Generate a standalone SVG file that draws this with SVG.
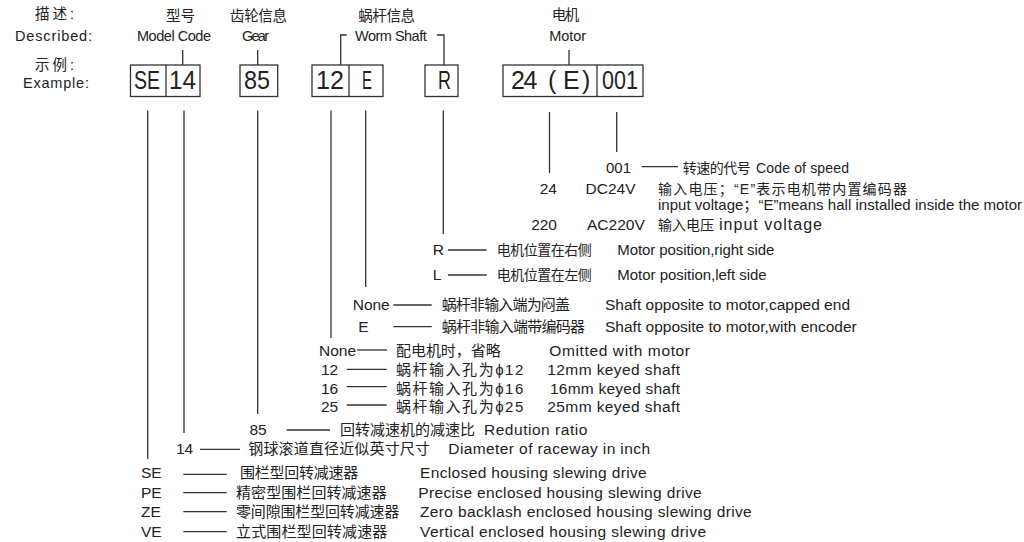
<svg xmlns="http://www.w3.org/2000/svg" width="1024" height="542" viewBox="0 0 1024 542">
<style>
text{font-family:"Liberation Sans","Noto Sans CJK SC",sans-serif;fill:#222;}
.h{font-size:14.5px;}
.b{font-size:25px;}
.s{font-size:14px;}
.m{font-size:15px;}
.l{font-size:15.5px;}
.ln{stroke:#333;stroke-width:1.3;fill:none;}
.bx{stroke:#333;stroke-width:1.3;fill:#fff;}
</style>
<rect width="1024" height="542" fill="#fff"/>

<g id="header">
<text class="h" x="35" y="19" textLength="39">描述:</text>
<text class="h" x="15" y="41" textLength="77">Described:</text>
<text class="h" x="35" y="70" textLength="39">示例:</text>
<text class="h" x="23" y="88" textLength="66">Example:</text>
</g>

<g id="model-code">
<text class="h" x="166" y="21" textLength="29">型号</text>
<text class="h" x="137" y="41" textLength="74">Model Code</text>
<rect class="bx" x="130.5" y="65" width="69.5" height="31.5"/>
<line class="ln" x1="166" y1="65" x2="166" y2="96.5"/>
<text class="b" x="134" y="88.5" textLength="26" lengthAdjust="spacingAndGlyphs">SE</text>
<text class="b" x="169" y="88.5" textLength="27" lengthAdjust="spacingAndGlyphs">14</text>
</g>

<g id="gear">
<text class="h" x="230" y="21" textLength="57">齿轮信息</text>
<text class="h" x="242" y="41" textLength="27">Gear</text>
<rect class="bx" x="240" y="65" width="37.7" height="31.5"/>
<text class="b" x="244" y="88.5" textLength="26" lengthAdjust="spacingAndGlyphs">85</text>
</g>

<g id="worm-shaft">
<text class="h" x="358.3" y="21" textLength="56.7">蜗杆信息</text>
<text class="h" x="355" y="41" textLength="71.7">Worm Shaft</text>
<rect class="bx" x="312" y="65" width="71" height="31.5"/>
<line class="ln" x1="349" y1="65" x2="349" y2="96.5"/>
<text class="b" x="316" y="88.5" textLength="28" lengthAdjust="spacingAndGlyphs">12</text>
<text class="b" x="362" y="88.5" textLength="10" lengthAdjust="spacingAndGlyphs">E</text>
<rect class="bx" x="425" y="65" width="33" height="31.5"/>
<text class="b" x="438" y="88.5" textLength="13" lengthAdjust="spacingAndGlyphs">R</text>
</g>

<g id="motor">
<text class="h" x="551.7" y="20" textLength="27.6">电机</text>
<text class="h" x="549.3" y="41" textLength="36.7">Motor</text>
<rect class="bx" x="503" y="65" width="140" height="31.5"/>
<line class="ln" x1="597" y1="65" x2="597" y2="96.5"/>
<text class="b" x="511 523.5 548 563 582" y="88.5">24(E)</text>
<text class="b" x="602" y="88.5" textLength="36" lengthAdjust="spacingAndGlyphs">001</text>
</g>

<g id="connectors">
<line class="ln" x1="182.7" y1="50" x2="182.7" y2="65"/>
<line class="ln" x1="257.7" y1="50" x2="257.7" y2="65"/>
<polyline class="ln" points="346.7,35 340.7,35 340.7,65"/>
<polyline class="ln" points="437,35 444,35 444,65"/>
<line class="ln" x1="569" y1="50" x2="569" y2="65"/>

<line class="ln" x1="147.7" y1="110.5" x2="147.7" y2="459"/>
<line class="ln" x1="184" y1="110.5" x2="184" y2="433"/>
<line class="ln" x1="257.7" y1="110.5" x2="257.7" y2="414"/>
<line class="ln" x1="331" y1="110.5" x2="331" y2="338"/>
<line class="ln" x1="365.7" y1="110.5" x2="365.7" y2="287"/>
<line class="ln" x1="443.3" y1="110.5" x2="443.3" y2="234"/>
<line class="ln" x1="549.5" y1="112" x2="549.5" y2="173"/>
<line class="ln" x1="616.7" y1="112" x2="616.7" y2="152"/>

<line class="ln" x1="641.7" y1="166.7" x2="678" y2="166.7"/>
<line class="ln" x1="448" y1="250" x2="486.7" y2="250"/>
<line class="ln" x1="448" y1="275" x2="486.7" y2="275"/>
<line class="ln" x1="393.3" y1="305" x2="431.7" y2="305"/>
<line class="ln" x1="393.3" y1="326.7" x2="431.7" y2="326.7"/>
<line class="ln" x1="357" y1="350" x2="387" y2="350"/>
<line class="ln" x1="346.7" y1="369.3" x2="386.7" y2="369.3"/>
<line class="ln" x1="346.7" y1="386.7" x2="386.7" y2="386.7"/>
<line class="ln" x1="346.7" y1="405" x2="386.7" y2="405"/>
<line class="ln" x1="286.7" y1="430" x2="330" y2="430"/>
<line class="ln" x1="200" y1="449.3" x2="240" y2="449.3"/>
<line class="ln" x1="183.3" y1="474.3" x2="226.7" y2="474.3"/>
<line class="ln" x1="183.3" y1="492.7" x2="226.7" y2="492.7"/>
<line class="ln" x1="183.3" y1="511.7" x2="226.7" y2="511.7"/>
<line class="ln" x1="183.3" y1="531.7" x2="226.7" y2="531.7"/>
</g>

<g id="legend-motor">
<text class="m" x="606" y="173">001</text>
<text class="s" x="682.7" y="173" textLength="68">转速的代号</text>
<text class="s" x="756" y="173" textLength="93">Code of speed</text>
<text class="l" x="557" y="193.5" text-anchor="end">24</text>
<text class="l" x="585.5" y="193.5">DC24V</text>
<text class="s" x="658" y="193.5" textLength="249">输入电压；“E”表示电机带内置编码器</text>
<text class="m" x="658" y="209.5" textLength="364">input voltage；“E”means hall installed inside the motor</text>
<text class="l" x="557" y="230" text-anchor="end">220</text>
<text class="l" x="587" y="230">AC220V</text>
<text class="s" x="658" y="230">输入电压</text>
<text class="l" x="719" y="230" textLength="103" style="font-size:16px">input voltage</text>
</g>

<g id="legend-position">
<text class="l" x="432.7" y="255">R</text>
<text class="s" x="496.7" y="255" textLength="95">电机位置在右侧</text>
<text class="m" x="617.3" y="255" textLength="157">Motor position,right side</text>
<text class="l" x="432.7" y="280">L</text>
<text class="s" x="496.7" y="280" textLength="95">电机位置在左侧</text>
<text class="m" x="617.3" y="280" textLength="149.4">Motor position,left side</text>
</g>

<g id="legend-worm-end">
<text class="l" x="352.7" y="310">None</text>
<text class="m" x="441.7" y="310" textLength="128.3">蜗杆非输入端为闷盖</text>
<text class="l" x="605" y="310" textLength="245">Shaft opposite to motor,capped end</text>
<text class="l" x="358.3" y="332">E</text>
<text class="m" x="441.7" y="332" textLength="143.3">蜗杆非输入端带编码器</text>
<text class="l" x="605" y="332" textLength="251.7">Shaft opposite to motor,with encoder</text>
</g>

<g id="legend-worm-input">
<text class="l" x="319" y="356">None</text>
<text class="m" x="396" y="356" textLength="104.7">配电机时，省略</text>
<text class="l" x="549.3" y="356" textLength="140.7">Omitted with motor</text>
<text class="l" x="321" y="375">12</text>
<text class="m" x="396" y="375" textLength="127.3">蜗杆输入孔为ϕ12</text>
<text class="l" x="547.3" y="375" textLength="132.7">12mm keyed shaft</text>
<text class="l" x="321" y="393.5">16</text>
<text class="m" x="396" y="393.5" textLength="127.3">蜗杆输入孔为ϕ16</text>
<text class="l" x="550" y="393.5" textLength="130">16mm keyed shaft</text>
<text class="l" x="321" y="412">25</text>
<text class="m" x="396" y="412" textLength="127.3">蜗杆输入孔为ϕ25</text>
<text class="l" x="547.3" y="412" textLength="132.7">25mm keyed shaft</text>
</g>

<g id="legend-ratio">
<text class="l" x="249.5" y="435">85</text>
<text class="m" x="340" y="435" textLength="135">回转减速机的减速比</text>
<text class="l" x="484" y="435" textLength="103.3">Redution ratio</text>
<text class="l" x="176" y="454">14</text>
<text class="m" x="248.3" y="454" textLength="181.7">钢球滚道直径近似英寸尺寸</text>
<text class="l" x="448.3" y="454" textLength="201.7">Diameter of raceway in inch</text>
</g>

<g id="legend-type">
<text class="l" x="141" y="478.3">SE</text>
<text class="m" x="240" y="478.3" textLength="118.3">围栏型回转减速器</text>
<text class="l" x="420" y="478.3" textLength="226.7">Enclosed housing slewing drive</text>
<text class="l" x="141" y="497.5">PE</text>
<text class="m" x="236" y="497.5" textLength="150.7">精密型围栏回转减速器</text>
<text class="l" x="418.3" y="497.5" textLength="283.4">Precise enclosed housing slewing drive</text>
<text class="l" x="141" y="517">ZE</text>
<text class="m" x="236" y="517" textLength="163.3">零间隙围栏型回转减速器</text>
<text class="l" x="420" y="517" textLength="331.7">Zero backlash enclosed housing slewing drive</text>
<text class="l" x="141" y="536.5">VE</text>
<text class="m" x="236" y="536.5" textLength="151.3">立式围栏型回转减速器</text>
<text class="l" x="420" y="536.5" textLength="286">Vertical enclosed housing slewing drive</text>
</g>
</svg>
